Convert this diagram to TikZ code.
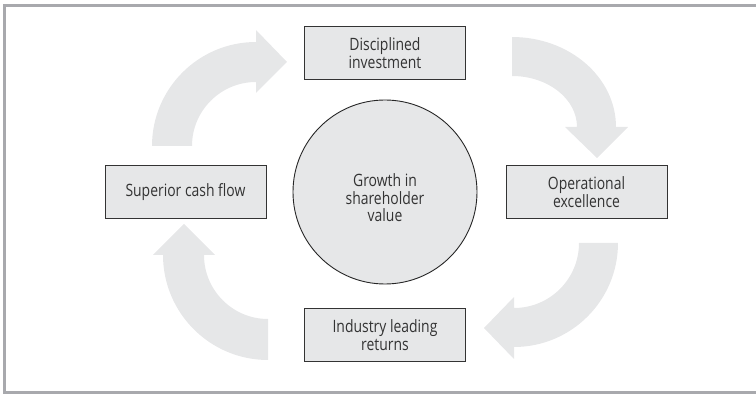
\documentclass[tikz,border=0pt]{standalone}
\usepackage{fontspec}
\setmainfont{Open Sans}[FakeStretch=0.82]
\usetikzlibrary{positioning}

\definecolor{boxgray}{HTML}{E6E7E8}
\definecolor{arrgray}{HTML}{E6E7E8}
\definecolor{framegray}{HTML}{A8A9AD}
\definecolor{textgray}{HTML}{333333}

\begin{document}
\begin{tikzpicture}[x=1pt,y=1pt,on grid,
    stage/.style={draw=black!80, fill=boxgray, line width=1pt, minimum width=161pt,
        minimum height=53pt, inner sep=0pt, align=center, text=textgray,
        font=\fontsize{17}{18}\selectfont},
    hub/.style={circle, draw=black!85, fill=boxgray, line width=0.9pt, minimum size=184pt,
        inner sep=0pt},
    hubtext/.style={align=center, text=textgray, font=\fontsize{17}{17.5}\selectfont},
    bigarrow/.style={fill=arrgray}]
    \useasboundingbox (0,0) rectangle (756,394);
    \draw[framegray, line width=3pt] (756,388.5) -- (4.5,388.5) -- (4.5,1.5) -- (756,1.5);

    \node[hub, label={[hubtext, yshift=-6pt]center:Growth in\\shareholder\\value}]
                   (growth)                      at (385,202) {};
    \node[stage]   (disc)   [above=138.5 of growth]           {Disciplined\\investment};
    \node[stage]   (oper)   [right=201.5 of growth]           {Operational\\excellence};
    \node[stage]   (indus)  [below=143 of growth]             {Industry leading\\returns};
    \node[stage]   (cash)   [left=199.5 of growth]            {Superior cash flow};

    % centres of the curved arrows
    \coordinate (c1) at (256,248);
    \coordinate (c2) at (512,267);
    \coordinate (c3) at (514,151);
    \coordinate (c4) at (268,139);

    % cash -> disc
    \fill[bigarrow] (c1) ++(-104,0) arc[start angle=180,end angle=90,radius=104]
        -- ++(0,12) -- ++(31,-32) -- ++(-31,-31) -- ++(0,11)
        arc[start angle=90,end angle=180,radius=64] -- cycle;
    % disc -> oper
    \fill[bigarrow] (c2) ++(0,90) arc[start angle=90,end angle=0,x radius=104,y radius=90]
        -- ++(12,0) -- ++(-31,-31) -- ++(-32,31) -- ++(12,0)
        arc[start angle=0,end angle=90,x radius=65,y radius=51] -- cycle;
    % oper -> indus
    \fill[bigarrow] (c3) ++(104,0) arc[start angle=0,end angle=-90,radius=104]
        -- ++(0,-12) -- ++(-30,31) -- ++(30,31) -- ++(0,-11)
        arc[start angle=-90,end angle=0,radius=65] -- cycle;
    % indus -> cash
    \fill[bigarrow] (c4) ++(0,-105) arc[start angle=-90,end angle=-180,radius=105]
        -- ++(-10,0) -- ++(31,31) -- ++(31,-31) -- ++(-11,0)
        arc[start angle=180,end angle=270,radius=64] -- cycle;
\end{tikzpicture}
\end{document}
